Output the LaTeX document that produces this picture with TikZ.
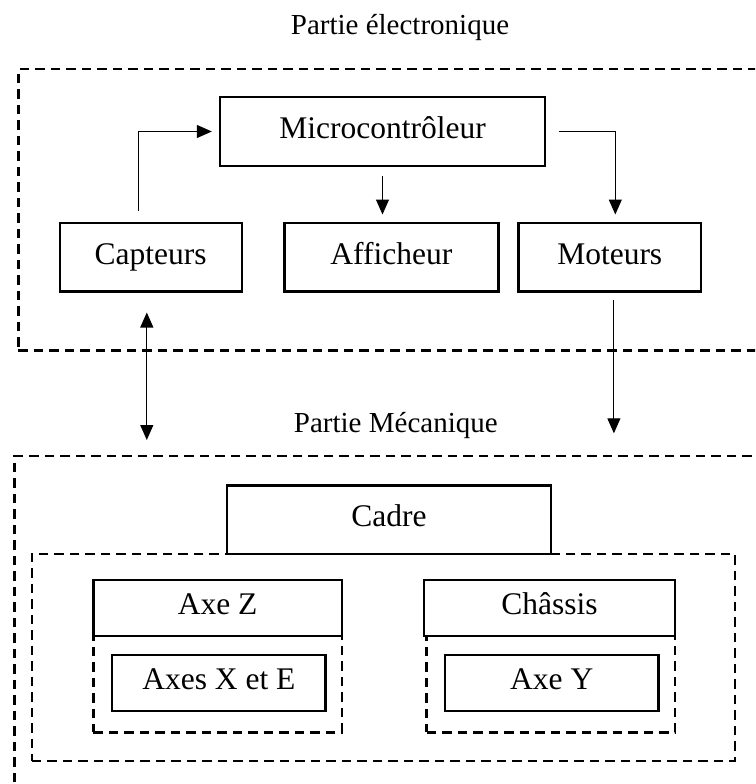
\documentclass[tikz,border=0pt]{standalone}
\usepackage{fontspec}
\setmainfont{Liberation Serif}
\usetikzlibrary{arrows.meta,calc}
\begin{document}
\begin{tikzpicture}[x=1pt,y=-1pt,
  box/.style={draw,line width=2.4pt,inner sep=0pt,outer sep=0pt,fill=white,
    text height=21pt,text depth=7pt,
    font=\fontsize{31.5}{36}\selectfont},
  dbox/.style={draw,line width=2.4pt,inner sep=0pt,outer sep=0pt,
    dash pattern=on 9.5pt off 6pt},
  lbl/.style={anchor=base,inner sep=0pt,font=\fontsize{29}{34}\selectfont},
  arr/.style={line width=1.1pt,-{Triangle[length=15pt,width=13pt]}},
  darr/.style={line width=1.1pt,{Triangle[length=15pt,width=13pt]}-{Triangle[length=15pt,width=13pt]}}]
\useasboundingbox (0,0) rectangle (755,784);
\begin{scope}
\clip (0,0) rectangle (755,784);
% outer dashed frames
\node[dbox,minimum width=771.7pt,minimum height=281pt] (elec) at (404.15,209.8) {};
\node[dbox,minimum width=775.6pt,minimum height=364pt] (mech) at (402.2,638) {};
\node[lbl] (lelec) at (400,35) {Partie électronique};
\node[lbl] (lmech) at (395.8,432.7) {Partie Mécanique};
% electronic part
\node[box,minimum width=325pt,minimum height=68.6pt] (micro) at (382.5,131.5) {Microcontrôleur};
\node[box,minimum width=182pt,minimum height=68.6pt] (cap) at (150.7,257.2) {Capteurs};
\node[box,minimum width=213.8pt,minimum height=68.6pt] (aff) at (391.4,257.2) {Afficheur};
\node[box,minimum width=182.5pt,minimum height=68.6pt] (mot) at (609.75,257.2) {Moteurs};
% mechanical part
\node[dbox,minimum width=702.9pt,minimum height=207.3pt] (inner) at (383.25,657.35) {};
\node[box,minimum width=324.5pt,minimum height=68.4pt] (cadre) at (389,519.5) {Cadre};
\node[dbox,minimum width=248.4pt,minimum height=96.6pt] (dz) at (217.6,684) {};
\node[dbox,minimum width=248.4pt,minimum height=96.6pt] (dc) at (550.8,684) {};
\node[box,minimum width=248.4pt,minimum height=56pt] (axez) at (217.6,607.7) {Axe Z};
\node[box,minimum width=250.8pt,minimum height=56pt] (chassis) at (549.6,607.7) {Châssis};
\node[box,minimum width=213.3pt,minimum height=56.3pt] (axexe) at (218.85,682.85) {Axes X et E};
\node[box,minimum width=213.7pt,minimum height=56.3pt] (axey) at (551.75,682.85) {Axe Y};
% connectors
\coordinate (k1) at (138.7,0);
\coordinate (k2) at (615.3,0);
\coordinate (k3) at (146.8,0);
\coordinate (k4) at (613.9,0);
\draw[arr,shorten <=12pt,shorten >=8.2pt] (k1 |- cap.north) |- (micro.west);
\draw[arr,shorten <=13.5pt,shorten >=8.4pt] (micro.east) -| (k2 |- mot.north);
\draw[arr,shorten <=10pt,shorten >=8.4pt] (micro.south) -- (micro.south |- aff.north);
\draw[darr,shorten <=21pt,shorten >=16pt] (k3 |- cap.south) -- (k3 |- mech.north);
\draw[arr,shorten <=8.4pt,shorten >=22.7pt] (k4 |- mot.south) -- (k4 |- mech.north);
\end{scope}
\end{tikzpicture}
\end{document}
